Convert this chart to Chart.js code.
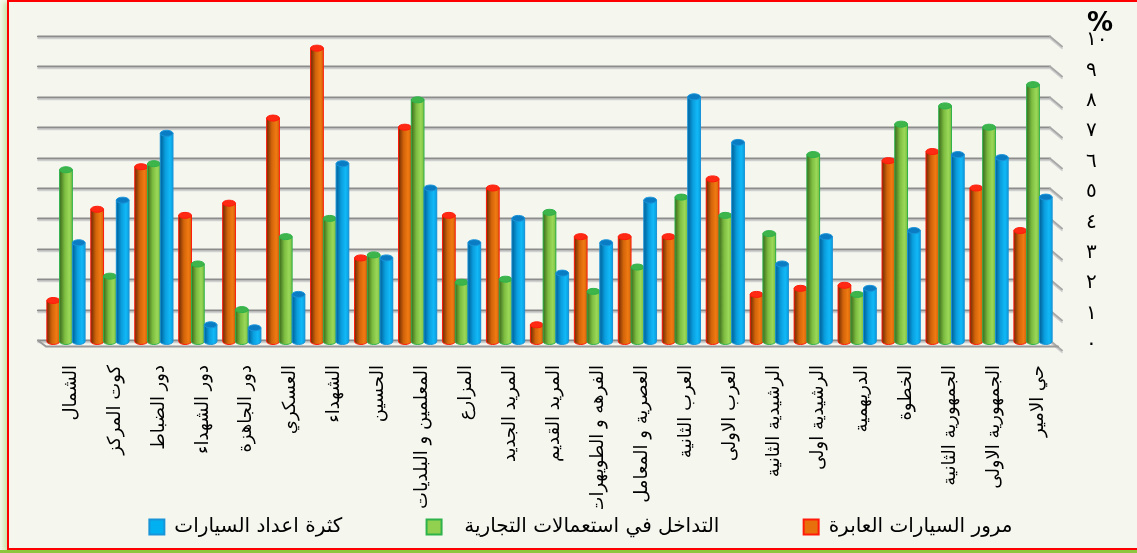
<!DOCTYPE html>
<html>
<head>
<meta charset="utf-8">
<script src="https://cdn.jsdelivr.net/npm/chart.js@4/dist/chart.umd.min.js"></script>
<style>
  html, body { margin:0; padding:0; background:#f3f8ec; width:1137px; height:553px; overflow:hidden; }
  #frame { position:absolute; left:7px; top:0; width:1200px; height:546px; border:2px solid #ff0000; border-right:none;
           background:#f5f7ef; box-shadow:-3px 2px 5px #c6e4a4; }
  #strip { position:absolute; left:0; top:550px; width:1137px; height:3px; background:#8cc63f; }
  #wrap { position:absolute; left:0; top:0; width:1137px; height:553px; }
</style>
</head>
<body>
<div id="frame"></div>
<div id="strip"></div>
<div id="wrap"><canvas id="c" width="1137" height="553"></canvas></div>
<script>
const categories = [
  'الشمال','كوت المركز','دور الضباط','دور الشهداء','دور الجاهزة','العسكري','الشهداء','الحسين',
  'المعلمين و البلديات','المزارع','المريد الجديد','المريد القديم','الفرهه و الطويهرات','العصرية و المعامل',
  'العرب الثانية','العرب الاولى','الرشيدية الثانية','الرشيدية اولى','الدريهمية','الخطوة',
  'الجمهورية الثانية','الجمهورية الاولى','حي الامير'
];
const seriesNames = ['مرور السيارات العابرة', 'التداخل في استعمالات التجارية', 'كثرة اعداد السيارات'];
const passingTraffic = [1.3,4.3,5.7,4.1,4.5,7.3,9.6,2.7,7.0,4.1,5.0,0.5,3.4,3.4,3.4,5.3,1.5,1.7,1.8,5.9,6.2,5.0,3.6];
const commercialUse  = [5.6,2.1,5.8,2.5,1.0,3.4,4.0,2.8,7.9,1.9,2.0,4.2,1.6,2.4,4.7,4.1,3.5,6.1,1.5,7.1,7.7,7.0,8.4];
const carCount       = [3.2,4.6,6.8,0.5,0.4,1.5,5.8,2.7,5.0,3.2,4.0,2.2,3.2,4.6,8.0,6.5,2.5,3.4,1.7,3.6,6.1,6.0,4.7];
const yTickLabels = ['٠','١','٢','٣','٤','٥','٦','٧','٨','٩','١٠'];
const unitLabel = '%';

// legend spacing (spaces around label text to reproduce the wide gaps of the original legend)
const SP = (n) => ' '.repeat(n);
const legendText = [
  seriesNames[0] + SP(3),
  SP(2) + seriesNames[1] + SP(12),
  seriesNames[2] + SP(12)
];

const shades = [
  { base:'#e8700c', dark:'#6e2a04', mid:'#d2640a', light:'#f07a12', cap:'#ff2a14', edge:'#ff1a0a' },
  { base:'#92d050', dark:'#3c6a1c', mid:'#7cbc40', light:'#9ad858', cap:'#3db54a', edge:'#2fb24a' },
  { base:'#00b0f0', dark:'#005f96', mid:'#0a9ede', light:'#12b8f6', cap:'#0a7cc4', edge:'#1a94d8' }
];

const gridPlugin = {
  id: 'grid3d',
  beforeDatasetsDraw(chart) {
    const ctx = chart.ctx, y = chart.scales.y, a = chart.chartArea;
    ctx.save();
    y.ticks.forEach((t, i) => {
      const py = Math.round(y.getPixelForValue(t.value)) + 0.5;
      const l = a.left - 6, r = a.right - 5;
      ctx.lineCap = 'round';
      ctx.strokeStyle = '#cfcfcf'; ctx.lineWidth = 1.5;
      ctx.beginPath(); ctx.moveTo(l, py + 2); ctx.lineTo(r, py + 2); ctx.lineTo(r + 12, py + 12); ctx.stroke();
      ctx.strokeStyle = '#8c8c8c'; ctx.lineWidth = 2.2;
      ctx.beginPath(); ctx.moveTo(l, py); ctx.lineTo(r, py); ctx.stroke();
      ctx.strokeStyle = '#a8a8a8'; ctx.lineWidth = 2;
      ctx.beginPath(); ctx.moveTo(r, py); ctx.lineTo(r + 12, py + 10); ctx.stroke();
      if (i === 0) {
        ctx.strokeStyle = '#9a9a9a'; ctx.lineWidth = 2;
        ctx.beginPath(); ctx.moveTo(l, py); ctx.lineTo(l + 8, py + 6); ctx.lineTo(r + 8, py + 6); ctx.stroke();
      }
    });
    ctx.restore();
  },
  afterDraw(chart) {
    const ctx = chart.ctx, y = chart.scales.y;
    ctx.save();
    ctx.font = 'bold 26px "DejaVu Sans"';
    ctx.fillStyle = '#000';
    ctx.textAlign = 'center';
    ctx.textBaseline = 'middle';
    ctx.fillText(unitLabel, y.left + 45, chart.chartArea.top - 12);
    ctx.restore();
  }
};

const cylPlugin = {
  id: 'cyl',
  afterDatasetsDraw(chart) {
    const ctx = chart.ctx;
    ctx.save();
    chart.data.datasets.forEach((ds, di) => {
      const meta = chart.getDatasetMeta(di);
      if (meta.hidden) return;
      const s = shades[di];
      meta.data.forEach(bar => {
        const p = bar.getProps(['x','y','base','width'], true);
        const w = p.width, l = p.x - w / 2, r = p.x + w / 2;
        const ry = 3;
        const g = ctx.createLinearGradient(l, 0, r, 0);
        g.addColorStop(0, s.dark); g.addColorStop(0.4, s.mid); g.addColorStop(0.75, s.light); g.addColorStop(1, s.mid);
        ctx.fillStyle = g;
        ctx.beginPath();
        ctx.moveTo(l, p.y);
        ctx.lineTo(l, p.base + 2);
        ctx.ellipse(p.x, p.base + 2, w / 2, ry, 0, Math.PI, 0, true);
        ctx.lineTo(r, p.y);
        ctx.closePath();
        ctx.fill();
        ctx.strokeStyle = s.edge; ctx.lineWidth = 1;
        ctx.stroke();
        ctx.beginPath();
        ctx.ellipse(p.x, p.y, w / 2, ry, 0, 0, Math.PI * 2);
        ctx.fillStyle = s.cap; ctx.fill();
        ctx.stroke();
      });
    });
    ctx.restore();
  }
};

const ds = (label, data, i) => ({
  label, data,
  backgroundColor: shades[i].base,
  borderColor: shades[i].edge,
  borderWidth: 2,
  barPercentage: 1.0,
  categoryPercentage: 0.87
});

new Chart(document.getElementById('c'), {
  type: 'bar',
  data: {
    labels: categories,
    datasets: [
      ds(seriesNames[0], passingTraffic, 0),
      ds(seriesNames[1], commercialUse, 1),
      ds(seriesNames[2], carCount, 2)
    ]
  },
  plugins: [gridPlugin, cylPlugin],
  options: {
    responsive: false,
    animation: false,
    layout: { padding: { left: 44, right: 0, top: 36, bottom: 6 } },
    plugins: {
      legend: {
        position: 'bottom',
        reverse: true,
        labels: {
          color: '#000',
          font: { family: '"DejaVu Sans"', size: 20 },
          boxWidth: 15, boxHeight: 15,
          padding: 8,
          generateLabels(chart) {
            const items = Chart.defaults.plugins.legend.labels.generateLabels(chart);
            items.forEach(it => { it.text = legendText[it.datasetIndex]; });
            return items;
          }
        }
      },
      tooltip: { enabled: false }
    },
    scales: {
      x: {
        grid: { display: false, drawTicks: false },
        border: { display: false },
        ticks: {
          color: '#000',
          font: { family: '"DejaVu Sans"', size: 18 },
          minRotation: 90, maxRotation: 90,
          autoSkip: false,
          padding: 25,
          labelOffset: 5
        },
        afterFit(s) { s.height = 169; }
      },
      y: {
        position: 'right',
        min: 0, max: 10,
        grid: { display: true, drawOnChartArea: false, drawTicks: true, tickLength: 28, color: 'rgba(0,0,0,0)' },
        border: { display: false },
        ticks: {
          stepSize: 1,
          color: '#000',
          font: { family: '"DejaVu Sans"', size: 20 },
          padding: 3,
          labelOffset: 4,
          callback: (v) => yTickLabels[v]
        },
        afterFit(s) { s.width = 82; }
      }
    }
  }
});
</script>
</body>
</html>
